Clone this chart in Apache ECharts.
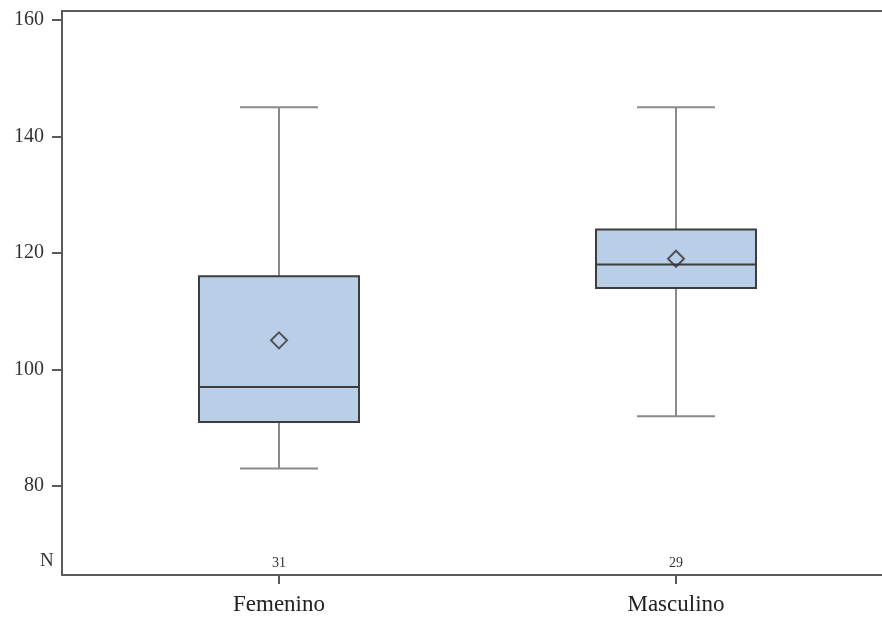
<!DOCTYPE html>
<html>
<head>
<meta charset="utf-8">
<script src="https://cdn.jsdelivr.net/npm/echarts@6/dist/echarts.min.js"></script>
<style>
  html, body { margin: 0; padding: 0; background: #fff; }
  #chart { width: 882px; height: 621px; }
</style>
</head>
<body>
<div id="chart"></div>
<script>
// datos del gráfico
var categories = ["Femenino", "Masculino"];
var whiskerLow = [83, 92];
var q1 = [91, 114];
var median = [97, 118];
var q3 = [116, 124];
var whiskerHigh = [145, 145];
var means = [105, 119];
var counts = [31, 29];
var yTicks = [80, 100, 120, 140, 160];

var serif = "'Liberation Serif', 'DejaVu Serif', serif";
var boxFill = "#b9cfe8";
var boxBorder = "#3d3d3d";
var whiskerColor = "#8a8a8a";
var axisColor = "#5a5a5a";

var chart = echarts.init(document.getElementById("chart"));

var boxData = categories.map(function (c, i) {
  return [i, whiskerLow[i], q1[i], median[i], q3[i], whiskerHigh[i]];
});

var option = {
  backgroundColor: "#fff",
  animation: false,
  grid: {
    left: 62,
    right: 0,
    top: 11,
    bottom: 46,
    show: false
  },
  xAxis: [
    {
      type: "value",
      min: -0.5466,
      max: 1.5189,
      splitLine: { show: false },
      axisLine: { show: true, onZero: false, lineStyle: { color: axisColor, width: 2 } },
      axisTick: { show: true, length: 9, customValues: [0, 1], lineStyle: { color: axisColor, width: 2 } },
      axisLabel: {
        customValues: [0, 1],
        formatter: function (v) { return categories[Math.round(v)]; },
        margin: 18,
        fontFamily: serif,
        fontSize: 23,
        color: "#222"
      }
    },
    {
      // fila de N
      type: "value",
      position: "bottom",
      min: -0.5466,
      max: 1.5189,
      splitLine: { show: false },
      axisLine: { show: false },
      axisTick: { show: false },
      axisLabel: {
        inside: true,
        customValues: [0, 1],
        formatter: function (v) { return String(counts[Math.round(v)]); },
        margin: 5,
        fontFamily: serif,
        fontSize: 14,
        color: "#333"
      }
    },
    {
      // borde superior
      type: "value",
      position: "top",
      min: -0.5466,
      max: 1.5189,
      splitLine: { show: false },
      axisLine: { show: true, onZero: false, lineStyle: { color: axisColor, width: 2 } },
      axisTick: { show: false },
      axisLabel: { show: false }
    }
  ],
  yAxis: {
    type: "value",
    min: 64.75,
    max: 161.5,
    splitLine: { show: false },
    axisLine: { show: true, onZero: false, lineStyle: { color: axisColor, width: 2 } },
    axisTick: { show: true, length: 10, customValues: yTicks, lineStyle: { color: axisColor, width: 2 } },
    axisLabel: {
      customValues: yTicks,
      margin: 18,
      fontFamily: serif,
      fontSize: 20,
      color: "#333"
    }
  },
  graphic: [
    {
      type: "text",
      left: 40,
      top: 552,
      style: { text: "N", font: "19px " + serif, fill: "#333" }
    }
  ],
  series: [
    {
      type: "custom",
      data: boxData,
      renderItem: function (params, api) {
        var i = api.value(0);
        var lo = api.coord([i, api.value(1)]);
        var b = api.coord([i, api.value(2)]);
        var md = api.coord([i, api.value(3)]);
        var t = api.coord([i, api.value(4)]);
        var hi = api.coord([i, api.value(5)]);
        var x = lo[0];
        var bw = 160, cw = 78;
        var wStyle = { stroke: whiskerColor, lineWidth: 2 };
        return {
          type: "group",
          children: [
            { type: "line", shape: { x1: x, y1: hi[1], x2: x, y2: t[1] }, style: wStyle },
            { type: "line", shape: { x1: x, y1: b[1], x2: x, y2: lo[1] }, style: wStyle },
            { type: "line", shape: { x1: x - cw / 2, y1: hi[1], x2: x + cw / 2, y2: hi[1] }, style: wStyle },
            { type: "line", shape: { x1: x - cw / 2, y1: lo[1], x2: x + cw / 2, y2: lo[1] }, style: wStyle },
            {
              type: "rect",
              shape: { x: x - bw / 2, y: t[1], width: bw, height: b[1] - t[1] },
              style: { fill: boxFill, stroke: boxBorder, lineWidth: 2 }
            },
            { type: "line", shape: { x1: x - bw / 2, y1: md[1], x2: x + bw / 2, y2: md[1] }, style: { stroke: boxBorder, lineWidth: 2 } }
          ]
        };
      }
    },
    {
      type: "scatter",
      data: means.map(function (m, i) { return [i, m]; }),
      symbol: "diamond",
      symbolSize: [16, 16],
      itemStyle: { color: "rgba(0,0,0,0)", borderColor: "#333", borderWidth: 2 },
      z: 5
    }
  ]
};

chart.setOption(option);
</script>
</body>
</html>
